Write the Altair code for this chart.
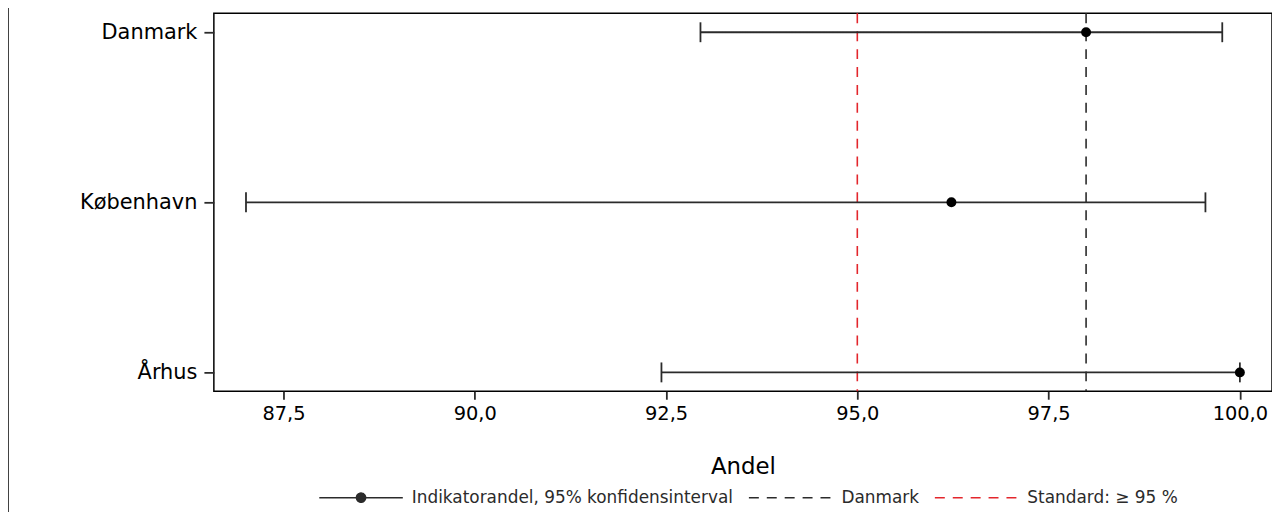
import altair as alt
import pandas as pd

# ---- data ----
names = ["Danmark", "København", "Århus"]
estimates = [97.99, 96.23, 100.0]
lower = [92.95, 87.01, 92.44]
upper = [99.77, 99.55, 100.0]

legend_labels = ["Indikatorandel, 95% konfidensinterval", "Danmark", "Standard: ≥ 95 %"]
ref_values = [97.99, 95.0]
ref_series = legend_labels[1:]

x_ticks = [87.5, 90.0, 92.5, 95.0, 97.5, 100.0]
x_domain = [86.59, 100.42]

FONT = "DejaVu Sans"
INK = "#2b2b2b"
RED = "#e3262c"

df = pd.DataFrame({"name": names, "est": estimates, "lo": lower, "hi": upper,
                   "series": [legend_labels[0]] * len(names)})
refs = pd.DataFrame({"value": ref_values, "series": ref_series})
leg = pd.DataFrame({"series": legend_labels, "x": [None] * len(legend_labels)})

LINE_DOT = "M-1,0H1M-0.11,0A0.11,0.11,0,1,1,0.11,0A0.11,0.11,0,1,1,-0.11,0Z"
LINE = "M-1,0H1"

xscale = alt.Scale(domain=x_domain, nice=False, zero=False)
yscale = alt.Scale(type="point", domain=names, padding=0.111)
color_scale = alt.Scale(domain=legend_labels, range=[INK, INK, RED])
dash_scale = alt.Scale(domain=legend_labels, range=[[1, 0], [10, 8], [10, 8]])
shape_scale = alt.Scale(domain=legend_labels, range=[LINE_DOT, LINE, LINE])

legend = alt.Legend(
    title=None, orient="none", legendX=105, legendY=444, direction="horizontal",
    symbolType="stroke", symbolSize=7056, symbolStrokeWidth=1.5,
    labelFont=FONT, labelFontSize=17, labelColor=INK, labelOffset=8,
    columnPadding=12, labelLimit=500,
)

xaxis = alt.Axis(values=x_ticks, title="Andel",
                 labelExpr="replace(format(datum.value, '.1f'), '.', ',')",
                 labelFontSize=19.5, labelPadding=5, tickSize=8,
                 titleFontSize=23, titlePadding=33)
yaxis = alt.Axis(title=None, labelFontSize=21, labelPadding=7, tickSize=10)

base = alt.Chart(df)

ref_rules = alt.Chart(refs).mark_rule(strokeWidth=1.6).encode(
    x=alt.X("value:Q", scale=xscale, axis=xaxis),
    color=alt.Color("series:N", scale=color_scale, legend=legend),
    strokeDash=alt.StrokeDash("series:N", scale=dash_scale, legend=legend),
)

bars = base.mark_rule(strokeWidth=1.8).encode(
    x=alt.X("lo:Q", scale=xscale, axis=xaxis),
    x2="hi:Q",
    y=alt.Y("name:N", scale=yscale, sort=names, axis=yaxis),
    color=alt.Color("series:N", scale=color_scale, legend=legend),
    strokeDash=alt.StrokeDash("series:N", scale=dash_scale, legend=legend),
)

caps_lo = base.mark_tick(orient="vertical", size=20, thickness=1.8, color=INK, opacity=1).encode(
    x=alt.X("lo:Q", scale=xscale), y=alt.Y("name:N", scale=yscale, sort=names))
caps_hi = base.mark_tick(orient="vertical", size=20, thickness=1.8, color=INK, opacity=1).encode(
    x=alt.X("hi:Q", scale=xscale), y=alt.Y("name:N", scale=yscale, sort=names))

dots = base.mark_circle(size=100, color="black", opacity=1).encode(
    x=alt.X("est:Q", scale=xscale), y=alt.Y("name:N", scale=yscale, sort=names))

legend_only = alt.Chart(leg).mark_point(filled=True, opacity=1).encode(
    x=alt.X("x:Q", scale=xscale),
    shape=alt.Shape("series:N", scale=shape_scale, legend=legend),
    color=alt.Color("series:N", scale=color_scale, legend=legend),
)

border = alt.Chart(pd.DataFrame({"k": [0]})).mark_rule(color="black", strokeWidth=1.5).encode(
    x=alt.value(-207), y=alt.value(-12), y2=alt.value(520))

chart = alt.layer(ref_rules, bars, caps_lo, caps_hi, dots, legend_only, border).properties(
    width=1064, height=380,
    autosize=alt.AutoSizeParams(type="none"),
    padding={"left": 207, "top": 4, "right": 0, "bottom": 120},
).configure(font=FONT).configure_view(
    stroke="black", strokeWidth=1.5
).configure_axis(
    domain=False, grid=False, tickColor=INK, tickWidth=1.8,
    labelColor="black", titleColor="black", labelFont=FONT, titleFont=FONT,
    titleFontWeight="normal",
)

chart.save("out.html", embed_options={"renderer": "svg", "actions": False})
